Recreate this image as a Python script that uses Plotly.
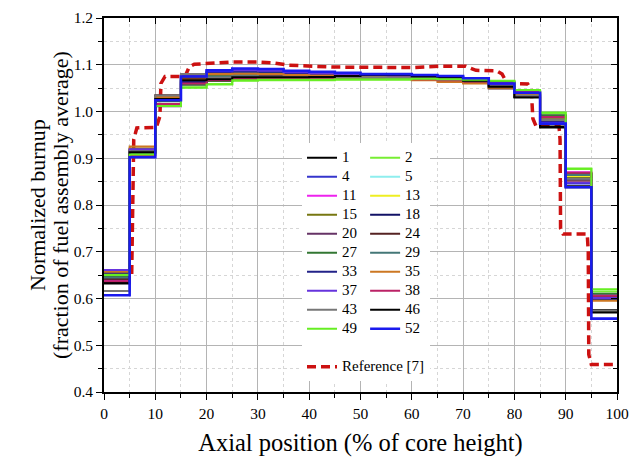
import plotly.graph_objects as go

# Axial bin edges (% of core height)
edges = list(range(0, 101, 5))

# Normalized burnup per 5% axial bin, for each fuel pin
s1 = [0.635, 0.912, 1.026, 1.066, 1.068, 1.072, 1.073, 1.073, 1.074, 1.076, 1.078, 1.077, 1.075, 1.073, 1.066, 1.054, 1.031, 0.968, 0.840, 0.575]
s2 = [0.648, 0.909, 1.013, 1.052, 1.059, 1.066, 1.067, 1.067, 1.067, 1.068, 1.068, 1.068, 1.069, 1.068, 1.067, 1.065, 1.045, 0.997, 0.877, 0.615]
s4 = [0.660, 0.918, 1.026, 1.074, 1.085, 1.089, 1.088, 1.085, 1.083, 1.081, 1.079, 1.078, 1.077, 1.075, 1.070, 1.059, 1.041, 0.975, 0.846, 0.600]
s5 = [0.644, 0.916, 1.030, 1.069, 1.078, 1.083, 1.085, 1.083, 1.081, 1.079, 1.077, 1.076, 1.075, 1.073, 1.068, 1.061, 1.043, 0.980, 0.860, 0.602]
s11 = [0.639, 0.907, 1.015, 1.058, 1.066, 1.069, 1.070, 1.070, 1.070, 1.071, 1.071, 1.070, 1.070, 1.068, 1.065, 1.062, 1.044, 0.988, 0.870, 0.608]
s13 = [0.654, 0.920, 1.029, 1.071, 1.076, 1.079, 1.079, 1.078, 1.077, 1.076, 1.075, 1.074, 1.072, 1.070, 1.066, 1.060, 1.042, 0.985, 0.862, 0.604]
s15 = [0.652, 0.921, 1.033, 1.072, 1.077, 1.080, 1.079, 1.077, 1.076, 1.075, 1.074, 1.073, 1.071, 1.068, 1.062, 1.050, 1.035, 0.986, 0.858, 0.600]
s18 = [0.644, 0.915, 1.023, 1.062, 1.082, 1.085, 1.084, 1.081, 1.080, 1.078, 1.077, 1.076, 1.074, 1.072, 1.067, 1.056, 1.037, 0.978, 0.853, 0.598]
s20 = [0.641, 0.911, 1.011, 1.078, 1.073, 1.077, 1.077, 1.076, 1.076, 1.075, 1.074, 1.073, 1.072, 1.070, 1.065, 1.055, 1.036, 0.990, 0.868, 0.605]
s24 = [0.642, 0.914, 1.035, 1.070, 1.074, 1.076, 1.076, 1.075, 1.075, 1.074, 1.073, 1.072, 1.071, 1.069, 1.064, 1.049, 1.033, 0.991, 0.867, 0.603]
s27 = [0.646, 0.912, 1.022, 1.057, 1.065, 1.070, 1.071, 1.071, 1.071, 1.071, 1.071, 1.071, 1.070, 1.068, 1.065, 1.063, 1.044, 0.992, 0.866, 0.610]
s29 = [0.645, 0.916, 1.028, 1.065, 1.075, 1.078, 1.082, 1.081, 1.079, 1.077, 1.076, 1.075, 1.073, 1.071, 1.067, 1.059, 1.041, 0.984, 0.864, 0.607]
s33 = [0.655, 0.917, 1.025, 1.064, 1.083, 1.086, 1.085, 1.082, 1.080, 1.079, 1.077, 1.076, 1.074, 1.072, 1.068, 1.057, 1.038, 0.977, 0.852, 0.599]
s35 = [0.657, 0.925, 1.031, 1.068, 1.080, 1.081, 1.080, 1.078, 1.077, 1.076, 1.074, 1.073, 1.067, 1.063, 1.060, 1.051, 1.036, 0.983, 0.850, 0.595]
s37 = [0.661, 0.919, 1.027, 1.079, 1.086, 1.088, 1.087, 1.084, 1.082, 1.080, 1.078, 1.077, 1.076, 1.074, 1.069, 1.058, 1.040, 0.976, 0.848, 0.601]
s38 = [0.637, 0.906, 1.016, 1.060, 1.067, 1.070, 1.071, 1.070, 1.070, 1.070, 1.070, 1.070, 1.069, 1.067, 1.064, 1.061, 1.043, 0.988, 0.869, 0.606]
s43 = [0.616, 0.915, 1.034, 1.080, 1.072, 1.075, 1.075, 1.074, 1.074, 1.074, 1.073, 1.072, 1.071, 1.069, 1.065, 1.054, 1.034, 0.982, 0.856, 0.573]
s46 = [0.632, 0.913, 1.027, 1.067, 1.069, 1.073, 1.073, 1.073, 1.074, 1.076, 1.078, 1.078, 1.075, 1.073, 1.066, 1.053, 1.030, 0.966, 0.838, 0.570]
s49 = [0.650, 0.908, 1.012, 1.051, 1.058, 1.067, 1.068, 1.068, 1.068, 1.069, 1.069, 1.069, 1.070, 1.069, 1.068, 1.066, 1.046, 0.998, 0.878, 0.620]
s52 = [0.607, 0.902, 1.024, 1.075, 1.088, 1.092, 1.091, 1.087, 1.085, 1.083, 1.080, 1.080, 1.078, 1.076, 1.071, 1.060, 1.040, 0.974, 0.838, 0.557]

ref_x = [0, 5.4, 5.8, 6.4, 10.2, 10.9, 11.1, 11.9, 15.8, 16.6, 17.6, 20, 25, 30, 33, 36, 45, 60, 66, 70.5, 72.5, 76.5, 77.6, 78.6, 82.6, 83.3, 83.6, 84.2, 88.7, 88.9, 89.0, 89.5, 94.2, 94.4, 94.5, 95.0, 99.7]
ref_y = [0.650, 0.652, 0.940, 0.965, 0.966, 0.990, 1.060, 1.075, 1.075, 1.095, 1.101, 1.103, 1.106, 1.106, 1.104, 1.099, 1.095, 1.094, 1.097, 1.097, 1.088, 1.087, 1.080, 1.060, 1.059, 1.045, 0.985, 0.969, 0.968, 0.940, 0.750, 0.738, 0.738, 0.700, 0.480, 0.459, 0.459]

col1_names = ["1", "4", "11", "15", "20", "27", "33", "37", "43", "49"]
col2_names = ["2", "5", "13", "18", "24", "29", "35", "38", "46", "52"]

series = {"1": s1, "2": s2, "4": s4, "5": s5, "11": s11, "13": s13, "15": s15,
          "18": s18, "20": s20, "24": s24, "27": s27, "29": s29, "33": s33,
          "35": s35, "37": s37, "38": s38, "43": s43, "46": s46, "49": s49, "52": s52}

colors = {"1": "#000000", "2": "#77ee33", "4": "#3535cc", "5": "#8eeeee",
          "11": "#ee22ee", "13": "#eeee22", "15": "#777711", "18": "#121266",
          "20": "#663366", "24": "#552222", "27": "#337733", "29": "#447777",
          "33": "#222288", "35": "#cc7722", "37": "#6633dd", "38": "#bb2266",
          "43": "#777777", "46": "#000000", "49": "#66ee22", "52": "#1a1aee"}

order = ["1", "2", "4", "5", "11", "13", "15", "18", "20", "24", "27", "29",
         "33", "35", "37", "38", "43", "46", "49", "52"]

y_title_lines = ["Normalized burnup", "(fraction of fuel assembly average)"]

FONT = "Liberation Serif"

fig = go.Figure()

fig.add_trace(go.Scatter(
    x=ref_x, y=ref_y, mode="lines",
    name="<span style='font-size:15px'>Reference [7]</span>",
    line=dict(color="#cc1111", width=3.5, dash="9px,5px"),
    legend="legend", legendgroup="ref", legendrank=1000, hoverinfo="skip"))

for nm in order:
    vals = series[nm]
    leg = "legend" if nm in col1_names else "legend2"
    rank = (col1_names.index(nm) if nm in col1_names else col2_names.index(nm)) + 1
    fig.add_trace(go.Scatter(
        x=edges, y=vals + [vals[-1]], mode="lines", line_shape="hv",
        name="<span style='font-size:15px'>" + nm + "</span>",
        line=dict(color=colors[nm], width=2.6 if nm == "52" else 2),
        legend=leg, legendgroup="pins", legendrank=rank, hoverinfo="skip"))

# helper trace that anchors the mirrored (top/right) axes
fig.add_trace(go.Scatter(x=[None], y=[None], xaxis="x2", yaxis="y2",
                         showlegend=False, hoverinfo="skip"))

axis_common = dict(
    showline=True, linecolor="black", linewidth=1.8, mirror=False,
    ticks="outside", ticklen=6, tickwidth=1.3, tickcolor="black",
    showgrid=True, gridcolor="#b4b4b4", gridwidth=1,
    zeroline=False, ticklabeloverflow="allow",
    tickfont=dict(family=FONT, size=15.5, color="black"),
)

fig.update_layout(
    xaxis=dict(
        range=[0, 100], tick0=0, dtick=10,
        minor=dict(dtick=5, ticks="outside", ticklen=4, tickcolor="black",
                   showgrid=True, gridcolor="#d6d6d6", griddash="dot", gridwidth=1),
        title=dict(text="Axial position (% of core height)",
                   font=dict(family=FONT, size=24.5, color="black"), standoff=14),
        **axis_common),
    yaxis=dict(
        range=[0.4, 1.2], tick0=0.4, dtick=0.1, tickformat=".1f",
        minor=dict(dtick=0.05, ticks="outside", ticklen=4, tickcolor="black",
                   showgrid=True, gridcolor="#d6d6d6", griddash="dot", gridwidth=1),
        **axis_common),
    xaxis2=dict(
        overlaying="x", side="top", range=[0, 100], tick0=0, dtick=10,
        showline=True, linecolor="black", linewidth=1.5,
        ticks="inside", ticklen=6, tickwidth=1.3, tickcolor="black",
        minor=dict(dtick=5, ticks="inside", ticklen=4, tickcolor="black", showgrid=False),
        showticklabels=False, showgrid=False, zeroline=False),
    yaxis2=dict(
        overlaying="y", side="right", range=[0.4, 1.2], tick0=0.4, dtick=0.1,
        showline=True, linecolor="black", linewidth=1.5,
        ticks="inside", ticklen=6, tickwidth=1.3, tickcolor="black",
        minor=dict(dtick=0.05, ticks="inside", ticklen=4, tickcolor="black", showgrid=False),
        showticklabels=False, showgrid=False, zeroline=False),
)

# two-line y-axis title with tighter line spacing than Plotly's default
for txt, shift in zip(y_title_lines, [-67, -44]):
    fig.add_annotation(text=txt, xref="paper", yref="paper", x=0, y=0.5,
                       xanchor="center", yanchor="middle", xshift=shift,
                       textangle=-90, showarrow=False,
                       font=dict(family=FONT, size=22, color="black"))

legend_common = dict(
    bgcolor="white", borderwidth=0, orientation="v",
    font=dict(family=FONT, size=11, color="black"),
    xanchor="left", yanchor="top", itemwidth=30,
    traceorder="grouped", tracegroupgap=19)

fig.update_layout(
    width=629, height=457,
    margin=dict(l=104, r=12, t=18, b=65, autoexpand=False),
    plot_bgcolor="white", paper_bgcolor="white",
    font=dict(family=FONT, color="black"),
    showlegend=True,
    legend=dict(x=0.386, y=0.665, **legend_common),
    legend2=dict(x=0.509, y=0.665, **legend_common),
)

# remove the default page margin so the figure fills the window exactly;
# hide the mode bar so it never overlays the chart
fig.write_html("out.html",
               config={"displayModeBar": False},
               post_script="document.body.style.margin='0';"
                           "document.body.style.overflow='hidden';")
